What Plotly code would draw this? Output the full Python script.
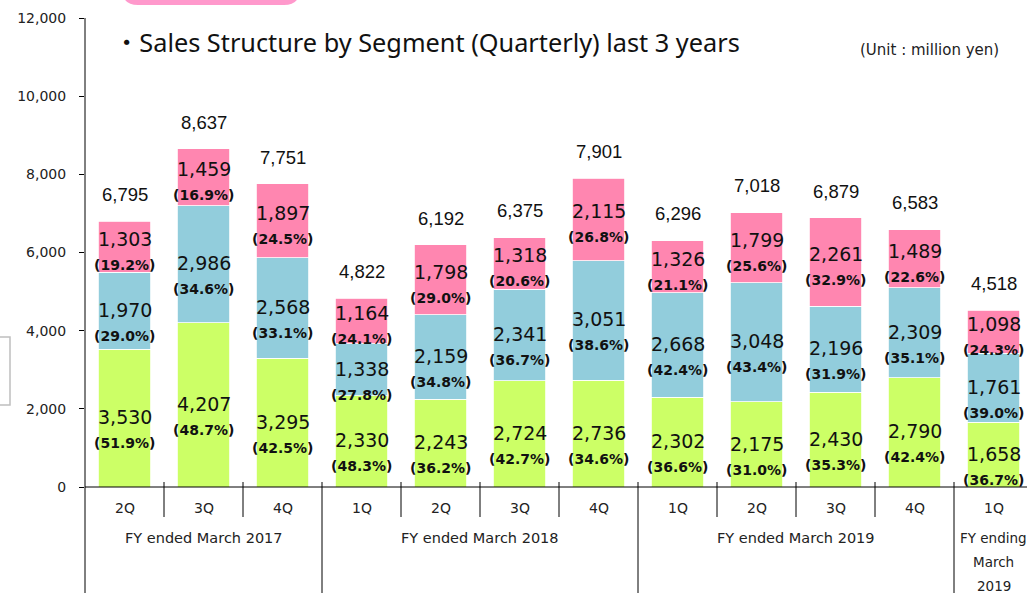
import plotly.graph_objects as go

quarters = ["2Q", "3Q", "4Q", "1Q", "2Q", "3Q", "4Q", "1Q", "2Q", "3Q", "4Q", "1Q"]
groups = ["FY ended March 2017", "FY ended March 2018", "FY ended March 2019", "FY ending March 2019"]
group_index = [0, 0, 0, 1, 1, 1, 1, 2, 2, 2, 2, 3]

seg_green = [3530, 4207, 3295, 2330, 2243, 2724, 2736, 2302, 2175, 2430, 2790, 1658]
seg_blue = [1970, 2986, 2568, 1338, 2159, 2341, 3051, 2668, 3048, 2196, 2309, 1761]
seg_pink = [1303, 1459, 1897, 1164, 1798, 1318, 2115, 1326, 1799, 2261, 1489, 1098]
totals = [6795, 8637, 7751, 4822, 6192, 6375, 7901, 6296, 7018, 6879, 6583, 4518]

pct_green = [51.9, 48.7, 42.5, 48.3, 36.2, 42.7, 34.6, 36.6, 31.0, 35.3, 42.4, 36.7]
pct_blue = [29.0, 34.6, 33.1, 27.8, 34.8, 36.7, 38.6, 42.4, 43.4, 31.9, 35.1, 39.0]
pct_pink = [19.2, 16.9, 24.5, 24.1, 29.0, 20.6, 26.8, 21.1, 25.6, 32.9, 22.6, 24.3]

y_ticks = [0, 2000, 4000, 6000, 8000, 10000, 12000]

title_text = "・Sales Structure by Segment (Quarterly) last 3 years"
unit_text = "(Unit : million yen)"

C_GREEN = "#CCFF66"
C_BLUE = "#92CDDC"
C_PINK = "#FF86B0"

W, H = 1027, 593
PL, PT, PB = 85, 18, 487  # plot area edges in page pixels
L, T, B, R = PL, PT, H - PB, 0
PW = W - L - R
PH = H - T - B
CAT_W = 79.0


def px2x(px):
    return (px - PL) / PW


def py2y(py):
    return (PB - py) / PH


xs = list(range(len(quarters)))
fig = go.Figure()
for name, vals, col in [("green", seg_green, C_GREEN), ("blue", seg_blue, C_BLUE), ("pink", seg_pink, C_PINK)]:
    fig.add_trace(go.Bar(x=xs, y=vals, name=name, marker=dict(color=col, line=dict(color="white", width=0.8)),
                         width=0.66, hoverinfo="skip"))

ann = []
NUM_FONT = "DejaVu Sans"
# (values, percents, value-line shift, percent-line shift) per segment
segments = [(seg_green, pct_green, 1, -25), (seg_blue, pct_blue, 1, -25), (seg_pink, pct_pink, 8, -18)]
for i in xs:
    base = 0
    for vals, pcts, s_val, s_pct in segments:
        v = vals[i]
        c = base + v / 2
        ann.append(dict(x=i, y=c, xref="x", yref="y", text=f"{v:,}", showarrow=False,
                        yshift=s_val, font=dict(family=NUM_FONT, size=19, color="#111")))
        ann.append(dict(x=i, y=c, xref="x", yref="y", text=f"<b>({pcts[i]:.1f}%)</b>", showarrow=False,
                        yshift=s_pct, font=dict(family=NUM_FONT, size=14, color="#111")))
        base += v
    ann.append(dict(x=i, y=totals[i], xref="x", yref="y", text=f"{totals[i]:,}", showarrow=False,
                    yshift=27, font=dict(family="Liberation Sans", size=18.5, color="#111")))

# quarter labels
for i, q in enumerate(quarters):
    ann.append(dict(x=i, y=py2y(508), xref="x", yref="paper", yanchor="middle", text=q, showarrow=False,
                    font=dict(family=NUM_FONT, size=14, color="#222")))
# group labels
for g in range(len(groups)):
    idx = [i for i in xs if group_index[i] == g]
    cx = sum(idx) / len(idx)
    if g < 3:
        ann.append(dict(x=cx, y=py2y(538), xref="x", yref="paper", yanchor="middle", text=groups[g],
                        showarrow=False, font=dict(family=NUM_FONT, size=14.5, color="#222")))
    else:
        parts = ["FY ending", "March", "2019"]
        for k, p in enumerate(parts):
            ann.append(dict(x=cx, y=py2y(538 + 24 * k), xref="x", yref="paper", yanchor="middle", text=p,
                            showarrow=False, font=dict(family=NUM_FONT, size=13.5, color="#222")))

ann.append(dict(x=px2x(112), y=py2y(42), xref="paper", yref="paper", xanchor="left", yanchor="middle",
                text=title_text, showarrow=False,
                font=dict(family="Noto Sans, Noto Sans CJK JP", size=25.3, color="#111")))
ann.append(dict(x=px2x(1001), y=py2y(50), xref="paper", yref="paper", xanchor="right", yanchor="middle",
                text=unit_text, showarrow=False, font=dict(family=NUM_FONT, size=15, color="#222")))

shapes = []
# y axis line extended to bottom
shapes.append(dict(type="line", xref="paper", yref="paper", x0=0, x1=0, y0=1, y1=py2y(H + 5),
                   line=dict(color="#000", width=1)))
# x axis line
shapes.append(dict(type="line", xref="paper", yref="paper", x0=0, x1=1.01, y0=0, y1=0,
                   line=dict(color="#000", width=1)))
# dividers
long_div = {2, 6, 10}
for i in range(len(quarters) - 1):
    xb = i + 0.5
    y1 = py2y(H + 5) if i in long_div else py2y(517)
    shapes.append(dict(type="line", xref="x", yref="paper", x0=xb, x1=xb, y0=py2y(482), y1=y1,
                       line=dict(color="#000", width=1)))
# grey box at left
shapes.append(dict(type="rect", xref="paper", yref="paper", x0=px2x(-20), x1=px2x(10), y0=py2y(405),
                   y1=py2y(337), line=dict(color="#BFBFBF", width=1.5), fillcolor="white", layer="above"))
# pink rounded tab at top (pixel sizemode: offsets from plot bottom-left, upward positive)
x0p, x1p, r = 122 - PL, 300 - PL, 16
ytop_u = PB + 40
ybot_u = PB - 5
path = (f"M {x0p},{ytop_u} L {x0p},{ybot_u + r} Q {x0p},{ybot_u} {x0p + r},{ybot_u} "
        f"L {x1p - r},{ybot_u} Q {x1p},{ybot_u} {x1p},{ybot_u + r} L {x1p},{ytop_u} Z")
shapes.append(dict(type="path", xsizemode="pixel", ysizemode="pixel", xanchor=0, yanchor=0,
                   xref="paper", yref="paper", path=path, fillcolor="#FF99CC", line=dict(width=0)))

fig.update_layout(
    barmode="stack",
    width=W, height=H,
    margin=dict(l=L, r=R, t=T, b=B, pad=0),
    paper_bgcolor="white", plot_bgcolor="white",
    showlegend=False,
    annotations=ann,
    shapes=shapes,
    xaxis=dict(range=[-0.5, -0.5 + PW / CAT_W], showticklabels=False, ticks="", showgrid=False,
               zeroline=False, showline=False, fixedrange=True),
    yaxis=dict(range=[0, 12000], tickvals=y_ticks, tickformat=",", ticks="outside", ticklen=5,
               tickcolor="#000", showgrid=False, zeroline=False, showline=False, fixedrange=True,
               tickfont=dict(family=NUM_FONT, size=14, color="#222"), ticklabelstandoff=10),
)

fig.write_html("out.html", config={"displayModeBar": False},
               post_script="document.body.style.margin='0';document.body.style.overflow='hidden';")
